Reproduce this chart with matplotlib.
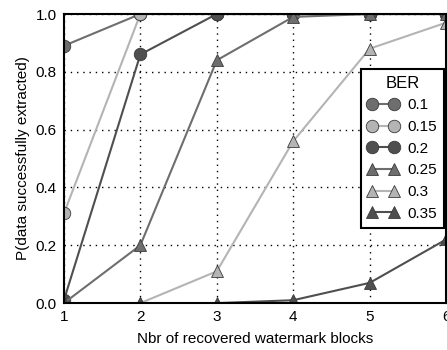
import matplotlib
matplotlib.use('Agg')
import matplotlib.pyplot as plt

plt.rcParams['font.family'] = ['Liberation Sans', 'DejaVu Sans']

blocks = [1, 2, 3, 4, 5, 6]
ber_labels = ['0.1', '0.15', '0.2', '0.25', '0.3', '0.35']
p_01 = [0.89, 1.0, 1.0, 1.0, 1.0, 1.0]
p_015 = [0.31, 1.0, 1.0, 1.0, 1.0, 1.0]
p_02 = [0.01, 0.86, 1.0, 1.0, 1.0, 1.0]
p_025 = [0.0, 0.2, 0.84, 0.99, 1.0, 1.0]
p_03 = [0.0, 0.0, 0.11, 0.56, 0.88, 0.97]
p_035 = [0.0, 0.0, 0.0, 0.01, 0.07, 0.22]

series = [p_01, p_015, p_02, p_025, p_03, p_035]
colors = ['#6e6e6e', '#b4b4b4', '#4f4f4f', '#6e6e6e', '#b4b4b4', '#4f4f4f']
markers = ['o', 'o', 'o', '^', '^', '^']

fig = plt.figure(figsize=(4.47, 3.5), dpi=100)
ax = fig.add_axes([0.143, 0.134, 0.855, 0.826])

for vals, lab, c, m in zip(series, ber_labels, colors, markers):
    ax.plot(blocks, vals, color=c, marker=m, markersize=9, linewidth=1.5,
            markerfacecolor=c, markeredgecolor='#3a3a3a', markeredgewidth=0.6,
            label=lab)

ax.set_xlim(1, 6)
ax.set_ylim(0, 1)
ax.set_xticks(blocks)
ax.set_yticks([0.0, 0.2, 0.4, 0.6, 0.8, 1.0])
ax.set_yticklabels(['0.0', '0.2', '0.4', '0.6', '0.8', '1.0'])
ax.grid(True, color='black', linestyle=(0, (1, 3.5)), linewidth=1.0)
ax.tick_params(labelsize=11, length=0, pad=5)
for s in ax.spines.values():
    s.set_linewidth(1.5)

ax.set_xlabel('Nbr of recovered watermark blocks', fontsize=11, labelpad=6)
ax.set_ylabel('P(data successfully extracted)', fontsize=11)

# legend sits partly over the right side of the plot, like the original
leg = ax.legend(title='BER', loc='upper left', bbox_to_anchor=(0.777, 0.81),
                numpoints=2, fontsize=11, title_fontsize=12, fancybox=False,
                framealpha=1, edgecolor='black', borderaxespad=0,
                handlelength=2.0, handletextpad=0.6, labelspacing=0.5,
                borderpad=0.45)
leg.get_frame().set_linewidth(1.5)

fig.savefig('out.png', dpi=100)
